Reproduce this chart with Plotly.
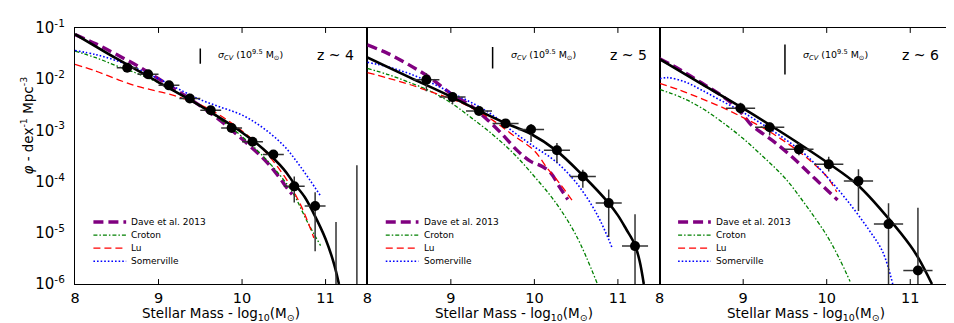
import numpy as np
import plotly.graph_objects as go
from plotly.subplots import make_subplots

# =========================
# DATA  (all phi values as log10)
# =========================

# --- z ~ 4 observed points
z4_x = [8.625, 8.875, 9.125, 9.375, 9.625, 9.875, 10.125, 10.375, 10.625, 10.875]
z4_y = [-1.775, -1.903, -2.12, -2.376, -2.607, -2.953, -3.222, -3.471, -4.093, -4.476]
z4_hi = [-1.72, -1.85, -2.07, -2.32, -2.55, -2.90, -3.16, -3.39, -3.90, -4.21]
z4_lo = [-1.83, -1.96, -2.17, -2.43, -2.66, -3.01, -3.29, -3.56, -4.41, -5.36]
z4_xerr = 0.125
z4_lim_x = [11.125, 11.375]
z4_lim_top = [-4.79, -3.68]

# --- z ~ 5 observed points
z5_x = [8.707, 9.02, 9.337, 9.655, 9.96, 10.27, 10.58, 10.89, 11.205]
z5_y = [-2.011, -2.35, -2.62, -2.863, -2.984, -3.388, -3.90, -4.42, -5.26]
z5_hi = [-1.884, -2.268, -2.56, -2.81, -2.875, -3.247, -3.77, -4.156, -4.636]
z5_lo = [-2.235, -2.49, -2.68, -2.92, -3.228, -3.632, -4.12, -5.084, -8.0]
z5_xerr = 0.156

# --- z ~ 6 observed points
z6_x = [8.968, 9.317, 9.667, 10.024, 10.38, 10.74, 11.092]
z6_y = [-2.568, -2.94, -3.37, -3.663, -3.99, -4.83, -5.737]
z6_hi = [-2.46, -2.844, -3.247, -3.516, -3.759, -4.425, -4.51]
z6_lo = [-2.68, -3.10, -3.484, -3.804, -4.572, -8.0, -8.0]
z6_xerr = 0.175

# --- best fit curves
fit4_x = [8.0, 8.5, 9.0, 9.5, 9.75, 10.0, 10.25, 10.5, 10.62, 10.75, 10.86, 11.0, 11.1, 11.16]
fit4_y = [-1.12, -1.60, -2.06, -2.52, -2.77, -3.04, -3.36, -3.76, -4.03, -4.30, -4.63, -5.12, -5.60, -6.0]
fit5_x = [8.0, 8.5, 9.0, 9.34, 9.655, 9.96, 10.26, 10.58, 10.89, 11.0, 11.1, 11.2, 11.26, 11.31]
fit5_y = [-1.576, -1.96, -2.34, -2.62, -2.86, -3.07, -3.39, -3.88, -4.42, -4.66, -4.93, -5.22, -5.55, -6.0]
fit6_x = [8.0, 8.5, 9.0, 9.5, 10.0, 10.38, 10.74, 11.0, 11.1, 11.26]
fit6_y = [-1.608, -2.09, -2.57, -3.08, -3.62, -4.08, -4.72, -5.25, -5.50, -6.0]

# --- Dave et al. 2013
dave4_x = [8.0, 8.25, 8.5, 8.75, 9.0, 9.25, 9.5, 9.75, 10.0, 10.25, 10.4, 10.55, 10.6]
dave4_y = [-1.13, -1.31, -1.52, -1.74, -1.99, -2.25, -2.52, -2.82, -3.17, -3.54, -3.82, -4.15, -4.25]
dave5_x = [8.0, 8.25, 8.5, 8.75, 9.0, 9.25, 9.43, 9.6, 9.8, 9.95, 10.1, 10.2, 10.3, 10.4]
dave5_y = [-1.33, -1.50, -1.72, -1.97, -2.28, -2.53, -2.78, -3.05, -3.40, -3.60, -3.71, -3.84, -4.10, -4.35]
dave6_x = [8.0, 8.25, 8.5, 8.75, 8.9, 9.0, 9.1, 9.25, 9.4, 9.6, 9.8, 10.0, 10.13]
dave6_y = [-1.60, -1.82, -2.07, -2.33, -2.52, -2.70, -2.90, -3.08, -3.26, -3.54, -3.85, -4.16, -4.36]

# --- Croton
croton4_x = [8.0, 8.25, 8.5, 8.75, 9.0, 9.25, 9.5, 9.75, 10.0, 10.25, 10.5, 10.62, 10.78, 10.94]
croton4_y = [-1.45, -1.58, -1.74, -1.89, -2.07, -2.28, -2.52, -2.80, -3.12, -3.50, -3.97, -4.25, -4.78, -5.25]
croton5_x = [8.0, 8.25, 8.5, 8.75, 9.0, 9.25, 9.5, 9.75, 10.0, 10.25, 10.5, 10.75]
croton5_y = [-1.79, -1.91, -2.06, -2.23, -2.46, -2.76, -3.08, -3.45, -3.90, -4.40, -5.05, -5.98]
croton6_x = [8.0, 8.25, 8.5, 8.75, 9.0, 9.25, 9.5, 9.75, 10.0, 10.15, 10.28]
croton6_y = [-2.20, -2.35, -2.56, -2.84, -3.16, -3.53, -3.93, -4.46, -5.05, -5.50, -5.95]

# --- Lu
lu4_x = [8.0, 8.25, 8.5, 8.75, 9.0, 9.25, 9.5, 9.75, 10.0, 10.25, 10.5, 10.7, 10.86]
lu4_y = [-1.71, -1.84, -2.00, -2.14, -2.24, -2.35, -2.50, -2.72, -3.01, -3.37, -3.88, -4.45, -5.1]
lu5_x = [8.0, 8.25, 8.5, 8.75, 9.0, 9.25, 9.5, 9.75, 10.0, 10.15, 10.3, 10.45]
lu5_y = [-1.87, -1.98, -2.10, -2.24, -2.38, -2.56, -2.80, -3.10, -3.40, -3.73, -4.03, -4.36]
lu6_x = [8.0, 8.25, 8.5, 8.75, 9.0, 9.25, 9.5, 9.75, 10.0, 10.12]
lu6_y = [-2.08, -2.22, -2.38, -2.55, -2.75, -2.96, -3.22, -3.52, -3.90, -4.20]

# --- Somerville
som4_x = [8.0, 8.25, 8.5, 8.75, 9.0, 9.25, 9.5, 9.75, 10.0, 10.25, 10.5, 10.7, 10.94]
som4_y = [-1.44, -1.52, -1.64, -1.80, -1.99, -2.20, -2.40, -2.55, -2.70, -2.95, -3.30, -3.71, -4.28]
som5_x = [8.0, 8.25, 8.5, 8.75, 9.0, 9.25, 9.5, 9.75, 10.0, 10.25, 10.5, 10.75, 10.93]
som5_y = [-1.67, -1.76, -1.89, -2.06, -2.26, -2.46, -2.70, -3.03, -3.32, -3.60, -4.02, -4.64, -5.29]
som6_x = [8.0, 8.1, 8.3, 8.5, 8.75, 9.0, 9.25, 9.5, 9.75, 10.0, 10.25, 10.5, 10.67, 10.79]
som6_y = [-1.99, -1.97, -2.05, -2.21, -2.43, -2.65, -2.90, -3.17, -3.48, -3.90, -4.38, -4.93, -5.37, -6.0]

# --- cosmic variance bar at 10^9.5 (log phi top / bottom)
cv_x = 9.5
cv_top = [-1.40, -1.37, -1.32]
cv_bot = [-1.70, -1.79, -1.91]

z_labels = ["z ~ 4", "z ~ 5", "z ~ 6"]
model_names = ["Dave et al. 2013", "Croton", "Lu", "Somerville"]

# y ticks: every 1..9 x 10^e, labelled at the decades only
y_tickvals = []
y_ticktext = []
for e in range(-6, 0):
    for k in range(1, 10):
        if e == -1 and k > 1:
            break
        y_tickvals.append(k * 10.0 ** e)
        y_ticktext.append(f"10<sup>{e}</sup>" if k == 1 else "")
x_tickvals = [8, 9, 10, 11]

# =========================
# STYLES
# =========================

FONT = "DejaVu Sans"
model_styles = [
    dict(color="#800080", width=3.4, dash="10px,5px"),
    dict(color="#008000", width=1.3, dash="4px,2px,1.5px,2px"),
    dict(color="#ff0000", width=1.3, dash="7px,4px"),
    dict(color="#0000ff", width=1.6, dash="1.6px,2px"),
]
PANEL_W, PANEL_H = 292.7, 260.0


def p(v):
    return 10 ** np.array(v, dtype=float)


fig = make_subplots(rows=1, cols=3, horizontal_spacing=0)

panels = [
    (z4_x, z4_y, z4_hi, z4_lo, z4_xerr, fit4_x, fit4_y,
     [(dave4_x, dave4_y), (croton4_x, croton4_y), (lu4_x, lu4_y), (som4_x, som4_y)]),
    (z5_x, z5_y, z5_hi, z5_lo, z5_xerr, fit5_x, fit5_y,
     [(dave5_x, dave5_y), (croton5_x, croton5_y), (lu5_x, lu5_y), (som5_x, som5_y)]),
    (z6_x, z6_y, z6_hi, z6_lo, z6_xerr, fit6_x, fit6_y,
     [(dave6_x, dave6_y), (croton6_x, croton6_y), (lu6_x, lu6_y), (som6_x, som6_y)]),
]

for i, (px_, py_, phi_, plo_, xerr, fx, fy, models) in enumerate(panels):
    col = i + 1
    xa = "x" if i == 0 else f"x{col}"
    ya = "y" if i == 0 else f"y{col}"

    # models
    for name, (mx, my), st in zip(model_names, models, model_styles):
        fig.add_trace(go.Scatter(
            x=mx, y=p(my), mode="lines", name=name, line_shape="spline",
            line=st, showlegend=False,
        ), row=1, col=col)

    # fit
    fig.add_trace(go.Scatter(
        x=fx, y=p(fy), mode="lines", line_shape="spline",
        line=dict(color="black", width=2.6), showlegend=False,
    ), row=1, col=col)

    # points
    yv = p(py_)
    fig.add_trace(go.Scatter(
        x=px_, y=yv, mode="markers",
        marker=dict(color="black", size=10),
        error_y=dict(type="data", symmetric=False,
                     array=p(phi_) - yv, arrayminus=yv - p(plo_),
                     color="#333333", thickness=1.5, width=0),
        error_x=dict(type="constant", value=xerr,
                     color="#333333", thickness=1.5, width=0),
        showlegend=False,
    ), row=1, col=col)

    # cosmic variance bar
    fig.add_trace(go.Scatter(
        x=[cv_x, cv_x], y=p([cv_top[i], cv_bot[i]]), mode="lines",
        line=dict(color="black", width=1.5), showlegend=False,
    ), row=1, col=col)

    fig.add_annotation(
        text=z_labels[i], xref=f"{xa} domain", yref=f"{ya} domain",
        x=0.962, y=0.896, xanchor="right", yanchor="middle", showarrow=False,
        font=dict(family=FONT, size=14, color="black"),
    )
    fig.add_annotation(
        text="<i>σ<sub>CV</sub></i> (10<sup>9.5</sup> M<sub>⊙</sub>)",
        xref=f"{xa} domain", yref=f"{ya} domain",
        x=0.483, y=0.896, xanchor="left", yanchor="middle", showarrow=False,
        font=dict(family=FONT, size=9.5, color="black"),
    )

    # x axis title
    fig.add_annotation(
        text="Stellar Mass - log<sub>10</sub>(M<sub>⊙</sub>)",
        xref=f"{xa} domain", yref=f"{ya} domain",
        x=0.5, y=-0.118, xanchor="center", yanchor="middle", showarrow=False,
        font=dict(family=FONT, size=13.5, color="black"),
    )

    # legend (one per panel)
    for k, (name, st) in enumerate(zip(model_names, model_styles)):
        yk = 1 - (213 + 13.3 * k - 16) / 260
        fig.add_shape(
            type="line", xref=f"{xa} domain", yref=f"{ya} domain",
            x0=0.063, x1=0.175, y0=yk, y1=yk, line=st,
        )
        fig.add_annotation(
            text=name, xref=f"{xa} domain", yref=f"{ya} domain",
            x=0.186, y=yk, xanchor="left", yanchor="middle", showarrow=False,
            font=dict(family=FONT, size=9, color="black"),
        )

    # inward tick marks on all four sides
    tick_line = dict(color="black", width=1)
    for v, lbl in zip(y_tickvals, y_ticktext):
        ln = (6.0 if lbl else 3.0) / PANEL_W
        yl = float(np.log10(v))
        for x0, x1 in [(0, ln), (1 - ln, 1)]:
            fig.add_shape(type="line", xref=f"{xa} domain", yref=ya,
                          x0=x0, x1=x1, y0=yl, y1=yl, line=tick_line)
    for v in x_tickvals[1:]:
        ln = 5.0 / PANEL_H
        for y0, y1 in [(0, ln), (1 - ln, 1)]:
            fig.add_shape(type="line", xref=xa, yref=f"{ya} domain",
                          x0=v, x1=v, y0=y0, y1=y1, line=tick_line)

# off-scale error bars at z ~ 4
for lx, lt in zip(z4_lim_x, z4_lim_top):
    fig.add_trace(go.Scatter(
        x=[lx, lx], y=p([-8, lt]), mode="lines",
        line=dict(color="#333333", width=1.5), showlegend=False,
    ), row=1, col=1)

# y axis title
fig.add_annotation(
    text="<i>φ</i> - dex<sup>-1</sup> Mpc<sup>-3</sup>",
    xref="paper", yref="y domain", x=-0.0547, y=0.619,
    xanchor="center", yanchor="middle", textangle=-90, showarrow=False,
    font=dict(family=FONT, size=13.5, color="black"),
)

# =========================
# AXES
# =========================

for i in range(3):
    col = i + 1
    fig.update_xaxes(
        range=[8, 11.5], tickvals=x_tickvals, ticktext=[str(v) for v in x_tickvals],
        ticks="", showline=True, linecolor="black", linewidth=1.3, mirror=True,
        showgrid=False, zeroline=False,
        tickfont=dict(family=FONT, size=14.5, color="black"),
        row=1, col=col,
    )
    fig.update_yaxes(
        type="log", range=[-6, -1],
        tickvals=y_tickvals, ticktext=y_ticktext,
        showticklabels=(i == 0),
        ticks="", showline=True, linecolor="black", linewidth=1.3, mirror=True,
        showgrid=False, zeroline=False,
        tickfont=dict(family=FONT, size=15, color="black"),
        ticklabelstandoff=6,
        row=1, col=col,
    )

fig.update_layout(
    width=954, height=323,
    margin=dict(l=67, r=9, t=16, b=47),
    paper_bgcolor="white", plot_bgcolor="white",
    font=dict(family=FONT, color="black"),
    showlegend=False,
)

fig.write_html("out.html")
